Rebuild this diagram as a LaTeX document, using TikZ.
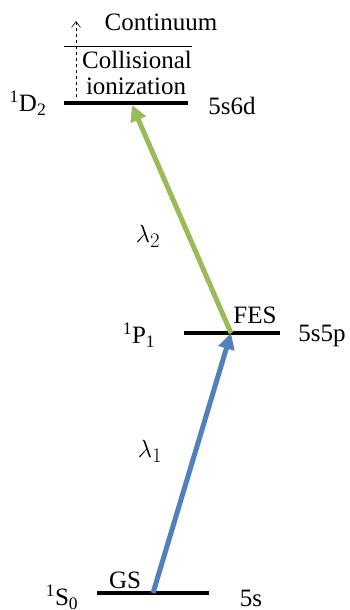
\documentclass[tikz,border=0pt]{standalone}
\usepackage{fontspec}
\setmainfont{Liberation Serif}
\newfontfamily\timesfont{Liberation Serif}
\usetikzlibrary{arrows.meta}
\definecolor{bluearr}{HTML}{4F81BD}
\definecolor{greenarr}{HTML}{9BBB59}
\tikzset{
  level/.style={line width=4pt, black},
  lbl/.style={inner sep=0pt, font=\timesfont\fontsize{25}{28}\selectfont},
  lam/.style={inner sep=0pt, font=\fontsize{30}{32}\selectfont},
  transition/.style={line width=5pt, -{Triangle[length=16pt,width=16pt]}},
}
\begin{document}
\begin{tikzpicture}[x=1pt,y=-1pt]
\useasboundingbox (0,0) rectangle (350,610);
% levels
\coordinate (DL) at (64,103); \coordinate (DR) at (188,103);
\coordinate (PL) at (184,333); \coordinate (PR) at (280,333);
\coordinate (SL) at (97,593); \coordinate (SR) at (209,593);
\draw[level] (DL) -- (DR);
\draw[level] (PL) -- (PR);
\draw[level] (SL) -- (SR);
% continuum line
\coordinate (CL) at (64,46); \coordinate (CR) at (192,46);
\draw[line width=0.7pt] (CL) -- (CR);
% dashed arrow
\coordinate (da0) at (76,97); \coordinate (da1) at (76,21);
\draw[dashed, line width=0.6pt, -{Straight Barb[length=6pt,width=9pt]}] (da0) -- (da1);
% labels
\node[lbl] (cont) at (161,22) {Continuum};
\node[lbl] (coll) at (137,60) {Collisional};
\node[lbl] (ion) at (136,86) {ionization};
\node[lbl] (Dterm) at (28,103) {\textsuperscript{1}D\textsubscript{2}};
\node[lbl] (Dconf) at (232,106) {5s6d};
\node[lbl] (Pterm) at (139,335) {\textsuperscript{1}P\textsubscript{1}};
\node[lbl] (Pconf) at (322,336) {5s5p};
\node[lbl] (fes) at (255,315) {FES};
\node[lbl] (Sterm) at (62,597) {\textsuperscript{1}S\textsubscript{0}};
\node[lbl] (Sconf) at (251,598) {5s};
\node[lbl] (gs) at (125,580) {GS};
\node[lam] (l2) at (148,236) {$\lambda_2$};
\node[lam] (l1) at (150,451) {$\lambda_1$};
% transitions
\coordinate (gs0) at (153,593);
\coordinate (fes0) at (231,333);
\coordinate (d0) at (132,105);
\draw[transition, bluearr] (gs0) -- (fes0);
\draw[transition, greenarr] (fes0) -- (d0);
\end{tikzpicture}
\end{document}
